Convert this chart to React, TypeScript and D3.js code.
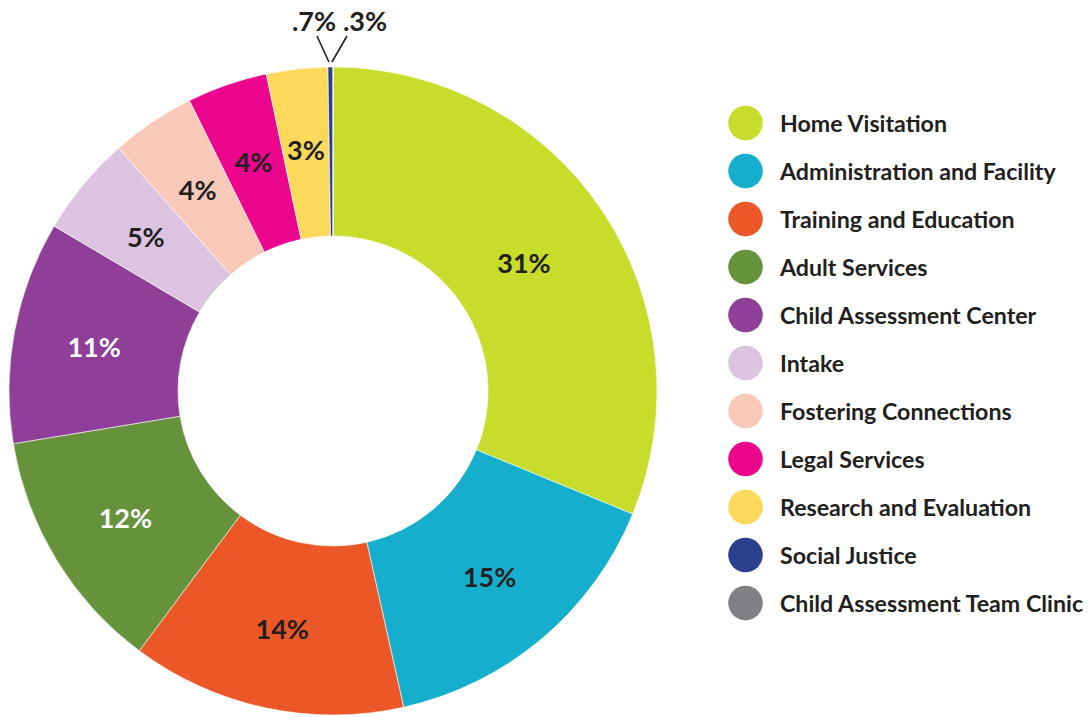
import React from "react";
import * as d3 from "d3";

const categories = [
  "Home Visitation",
  "Administration and Facility",
  "Training and Education",
  "Adult Services",
  "Child Assessment Center",
  "Intake",
  "Fostering Connections",
  "Legal Services",
  "Research and Evaluation",
  "Social Justice",
  "Child Assessment Team Clinic",
];
// slice shares as drawn in the picture
const values = [31.2, 15.3, 13.7, 12.2, 11.1, 5.0, 4.2, 4.0, 3.05, 0.25, 0.0];
const valueLabels = ["31%", "15%", "14%", "12%", "11%", "5%", "4%", "4%", "3%", ".7%", ".3%"];
const colors = [
  "#c8dc2b", "#15afcd", "#eb5726", "#65923b", "#8f3f98",
  "#dcc3e0", "#f8c8b9", "#ec068d", "#fdd95b", "#2b3f8f", "#808184",
];
const labelColors = [
  "#231f20", "#231f20", "#231f20", "#ffffff", "#ffffff",
  "#231f20", "#231f20", "#231f20", "#231f20", "#231f20", "#231f20",
];

const W = 1088, H = 717;
const cx = 333, cy = 391;
const rOuter = 324, rInner = 155, rLabel = 243;
const FONT = "Lato, 'Open Sans', sans-serif";

export default function App() {
  const data = categories.map((c, i) => ({ c, v: values[i], i }));
  const pie = d3.pie<any>().value((d) => d.v).sort(null).startAngle(0).endAngle(2 * Math.PI);
  const arcs = pie(data);
  const arc = d3.arc<any>().innerRadius(rInner).outerRadius(rOuter);
  const labelArc = d3.arc<any>().innerRadius(rLabel).outerRadius(rLabel);
  const firstLabelArc = d3.arc<any>().innerRadius(230).outerRadius(230);

  const sj = arcs[9];
  const tipAngle = (sj.startAngle + sj.endAngle) / 2;
  const tipX = cx + Math.sin(tipAngle) * (rOuter + 3);
  const tipY = cy - Math.cos(tipAngle) * (rOuter + 3);

  const legendY = d3.scalePoint<number>().domain(d3.range(categories.length)).range([123, 603]);

  return (
    <svg width={W} height={H} style={{ position: "absolute", left: 0, top: 0 }}>
      <rect width={W} height={H} fill="#ffffff" />
      <g transform={`translate(${cx},${cy})`}>
        {arcs.map((a, i) => (
          <path key={i} d={arc(a) || ""} fill={colors[i]} stroke="#ffffff" strokeWidth={0.6} />
        ))}
        {arcs.map((a, i) => {
          if (i >= 9) return null;
          const [x, y] = (i === 0 ? firstLabelArc : labelArc).centroid(a);
          return (
            <text key={i} x={x} y={y} textAnchor="middle" dominantBaseline="central"
              fontFamily={FONT} fontWeight={700} fontSize={27} fill={labelColors[i]}>
              {valueLabels[i]}
            </text>
          );
        })}
      </g>
      {/* callouts for the two tiny slices */}
      <line x1={317} y1={36} x2={tipX - 1.5} y2={tipY - 2} stroke="#231f20" strokeWidth={1.6} />
      <line x1={347} y1={36} x2={tipX + 1.5} y2={tipY - 2} stroke="#231f20" strokeWidth={1.6} />
      <text x={314} y={31} textAnchor="middle" fontFamily={FONT} fontWeight={700} fontSize={27} fill="#231f20">
        {valueLabels[9]}
      </text>
      <text x={365} y={31} textAnchor="middle" fontFamily={FONT} fontWeight={700} fontSize={27} fill="#231f20">
        {valueLabels[10]}
      </text>
      {categories.map((c, i) => (
        <g key={c} transform={`translate(0,${legendY(i)})`}>
          <circle cx={745.5} cy={0} r={17.3} fill={colors[i]} />
          <text x={780} y={0} dominantBaseline="central" fontFamily={FONT} fontWeight={700}
            fontSize={23.2} fill="#231f20">
            {c}
          </text>
        </g>
      ))}
    </svg>
  );
}
